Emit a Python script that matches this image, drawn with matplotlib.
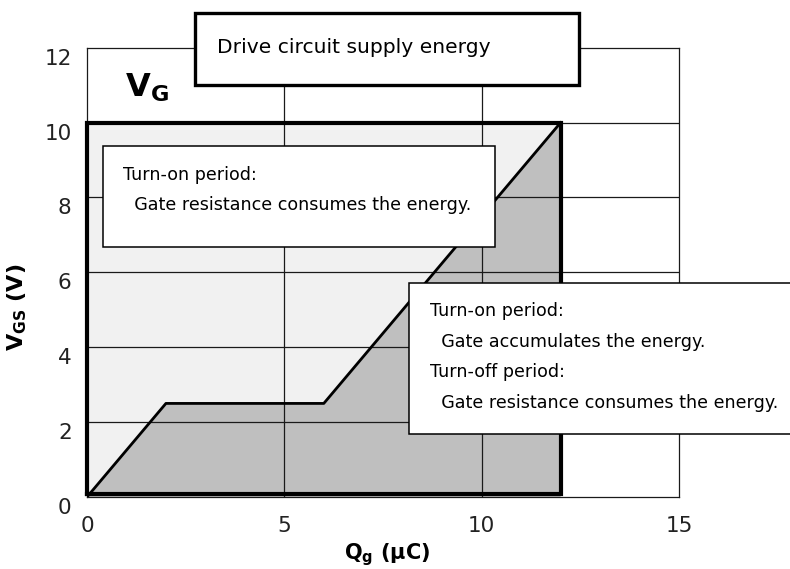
import numpy as np
import matplotlib
matplotlib.use("Agg")
from matplotlib import pyplot as plt
from matplotlib.patches import Rectangle, Polygon
from matplotlib.transforms import ScaledTranslation

# gate charge curve (Qg in uC, VGS in V)
qg = [0, 2, 6, 12]
vgs = [0, 2.5, 2.5, 10]
q_total = 12      # total gate charge
v_drive = 10      # drive voltage VG

xticks = [0, 5, 10, 15]
yticks = [0, 2, 4, 6, 8, 10, 12]

box_top = "Drive circuit supply energy"
box_left = ["Turn-on period:", "  Gate resistance consumes the energy."]
box_right = ["Turn-on period:", "  Gate accumulates the energy.",
             "Turn-off period:", "  Gate resistance consumes the energy."]

plt.rcParams['font.family'] = ['DejaVu Sans']
plt.rcParams['mathtext.fontset'] = 'dejavusans'

fig = plt.figure(figsize=(7.9, 5.69), dpi=100)
ax = fig.add_axes([0.1101, 0.1265, 0.7494, 0.7896])
ax.set_xlim(0, 15)
ax.set_ylim(0, 12)

# energy areas
ax.add_patch(Rectangle((0, 0), q_total, v_drive, facecolor='#f1f1f1',
                       edgecolor='none', zorder=0.5))
under = list(zip(qg, vgs)) + [(q_total, 0)]
ax.add_patch(Polygon(under, closed=True, facecolor='#bfbfbf',
                     edgecolor='none', zorder=0.6))

# grid
for x in xticks[1:-1]:
    ax.axvline(x, color='#1a1a1a', lw=0.9, zorder=1)
for y in yticks[1:-1]:
    ax.axhline(y, color='#1a1a1a', lw=0.9, zorder=1)

# thick outline + curve
ax.plot([0, 0, q_total, q_total, 0], [0.08, v_drive, v_drive, 0.08, 0.08],
        color='black', lw=3.0, solid_joinstyle='miter', zorder=3, clip_on=False)
ax.plot(qg, vgs, color='black', lw=2.0, zorder=3)

for s in ax.spines.values():
    s.set_linewidth(0.9)
    s.set_color('#1a1a1a')

ax.set_xticks(xticks)
ax.set_yticks(yticks)
ax.tick_params(length=0, labelsize=15.5, labelcolor='#222222')
ax.tick_params(axis='x', pad=14)
ax.tick_params(axis='y', pad=11)
off = ScaledTranslation(0, -0.09, fig.dpi_scale_trans)
for lab in ax.get_yticklabels():
    lab.set_transform(lab.get_transform() + off)

ax.set_xlabel(r'$\mathbf{Q_g}$ (μC)', fontsize=15, fontweight='bold')
ax.xaxis.set_label_coords(0.507, -0.098)
ax.set_ylabel(r'$\mathbf{V_{GS}}$ (V)', fontsize=16, fontweight='bold')
ax.yaxis.set_label_coords(-0.098, 0.423)

# VG label
ax.text(0.96, 10.69, r'$\mathbf{V_G}$', fontsize=23, va='baseline', zorder=6)

# text boxes
ax.add_patch(Rectangle((2.73, 11.0), 12.46 - 2.73, 12.92 - 11.0, facecolor='white',
                       edgecolor='black', lw=2.4, zorder=5, clip_on=False))
ax.text(3.30, 11.87, box_top, fontsize=14.6, va='baseline', zorder=6, clip_on=False)

ax.add_patch(Rectangle((0.41, 6.67), 10.33 - 0.41, 9.37 - 6.67, facecolor='white',
                       edgecolor='black', lw=1.1, zorder=5))
for line, yy in zip(box_left, [8.47, 7.67]):
    ax.text(0.915, yy, line, fontsize=12.6, va='baseline', zorder=6)

ax.add_patch(Rectangle((8.16, 1.67), 18.5 - 8.16, 5.72 - 1.67, facecolor='white',
                       edgecolor='black', lw=1.1, zorder=5, clip_on=False))
for line, yy in zip(box_right, [4.83, 4.00, 3.20, 2.385]):
    ax.text(8.68, yy, line, fontsize=12.6, va='baseline', zorder=6, clip_on=False)

fig.savefig('out.png', dpi=100)
